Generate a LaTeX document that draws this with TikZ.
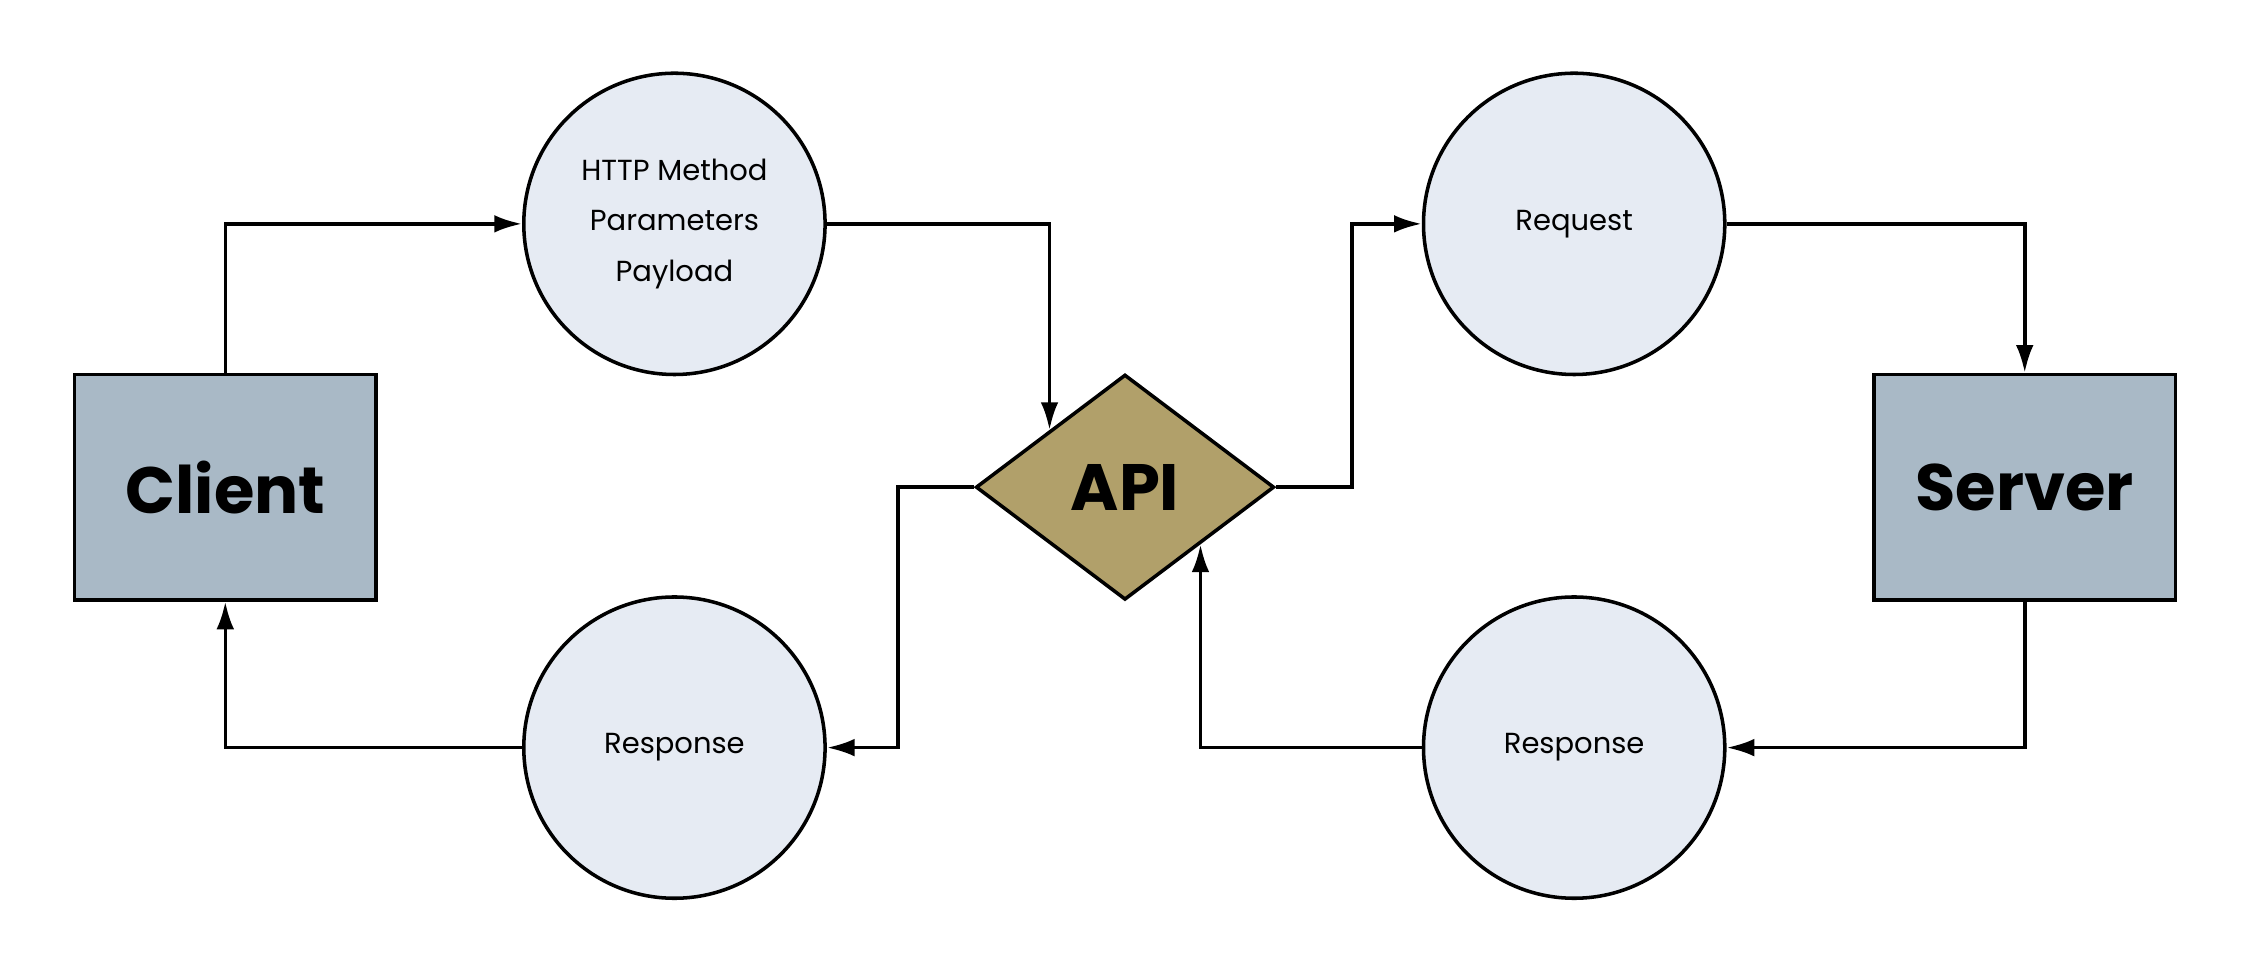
\documentclass[tikz,border=0pt]{standalone}
\usepackage{fontspec}
\setmainfont{Poppins}
\usetikzlibrary{arrows.meta}
\usetikzlibrary{calc}
\usetikzlibrary{shapes.geometric}
\definecolor{bubble-blue}{HTML}{E6EBF3}
\definecolor{box-gray}{HTML}{A9B9C6}
\definecolor{api-gold}{HTML}{B1A06A}

\begin{document}
\begin{tikzpicture}[x=0.02cm,y=-0.02cm,
		line width=1.4pt,
		box/.style={draw,fill=box-gray,minimum width=4.2cm,minimum height=3.14cm,inner sep=0pt,font=\fontsize{26}{30}\selectfont\bfseries},
		bubble/.style={draw,circle,fill=bubble-blue,minimum size=4.2cm,inner sep=0pt,align=center,font=\fontsize{11.5}{20}\selectfont},
		link/.style={-{Latex[length=11pt,width=7pt]}}]
		
		\useasboundingbox (0,0) rectangle (1568,680);
		
		%--- NODES ------------------------------
		
		% Boxes
		\node [box] (client) at (157,339.5) {Client};
		\node [box] (server) at (1411,339.5) {Server};
		
		% API diamond
		\node [draw,diamond,fill=api-gold,minimum width=4.16cm,minimum height=3.14cm,inner sep=0pt,
		       font=\fontsize{26}{30}\selectfont\bfseries] (api) at (784,339.5) {API};
		
		% Bubbles
		\node [bubble] (params) at (470,156) {HTTP Method\\Parameters\\Payload};
		\node [bubble] (respL) at (470,521) {Response};
		\node [bubble] (request) at (1097,156) {Request};
		\node [bubble] (respR) at (1097,521) {Response};
		
		%--- ARROWS -----------------------------
		
		\coordinate (apiNW) at ($(api.north)!0.5!(api.west)$);
		\coordinate (apiSE) at ($(api.south)!0.5!(api.east)$);
		
		\draw [link] (client.north) |- (params.west);
		\draw [link] (params.east) -| (apiNW);
		\draw [link] (api.west) -- ++(-53,0) |- (respL.east);
		\draw [link] (respL.west) -| (client.south);
		
		\draw [link] (api.east) -- ++(53,0) |- (request.west);
		\draw [link] (request.east) -| (server.north);
		\draw [link] (server.south) |- (respR.east);
		\draw [link] (respR.west) -| (apiSE);
		
\end{tikzpicture}
\end{document}
